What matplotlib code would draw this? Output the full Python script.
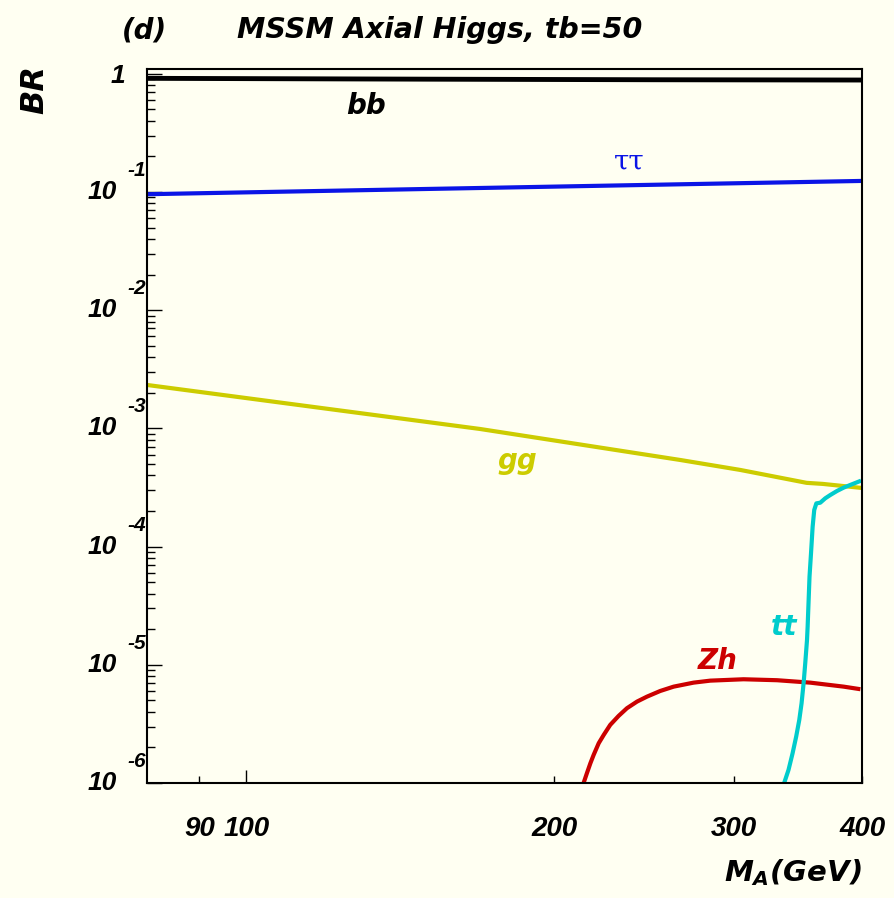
import numpy as np
import matplotlib
matplotlib.use("Agg")
import matplotlib.pyplot as plt
from matplotlib.ticker import NullFormatter, FixedLocator

plt.rcParams['font.family'] = ['Liberation Sans', 'DejaVu Sans']
plt.rcParams['mathtext.fontset'] = 'custom'
plt.rcParams['mathtext.it'] = 'DejaVu Sans:bold:italic'
plt.rcParams['mathtext.rm'] = 'DejaVu Sans:bold:italic'

# branching ratios of the MSSM axial Higgs (tan beta = 50)
mass_bb = [80, 150, 250, 400]
br_bb = [0.915, 0.90, 0.89, 0.885]

mass_tau = [80, 150, 250, 400]
br_tau = [0.0957, 0.106, 0.115, 0.124]

mass_gg = [80, 169.3, 265.7, 304, 353, 366, 400]
br_gg = [2.33e-3, 9.88e-4, 5.40e-4, 4.45e-4, 3.46e-4, 3.39e-4, 3.13e-4]

mass_zh = [213.7, 215.3, 217.0, 218.6, 221.1, 223.6, 226.9, 231.2, 235.6, 241.0,
           246.4, 253.9, 261.7, 273.7, 284.2, 306.3, 330.3, 355.9, 383.7, 398.4]
br_zh = [1.0e-6, 1.21e-6, 1.47e-6, 1.73e-6, 2.17e-6, 2.55e-6, 3.10e-6, 3.69e-6,
         4.29e-6, 4.88e-6, 5.37e-6, 6.00e-6, 6.53e-6, 7.06e-6, 7.34e-6, 7.54e-6,
         7.40e-6, 7.06e-6, 6.53e-6, 6.21e-6]

mass_tt = [335.6, 338.9, 342.0, 344.8, 347.2, 349.0, 350.6, 351.9, 353.3, 353.8,
           354.6, 355.3, 356.5, 357.8, 359.1, 360.8, 364.0, 368.1, 372.3, 377.9,
           383.6, 389.4, 399.0]
br_tt = [1.0e-6, 1.29e-6, 1.78e-6, 2.47e-6, 3.41e-6, 4.72e-6, 6.97e-6, 1.03e-5,
         1.62e-5, 2.10e-5, 3.53e-5, 5.56e-5, 8.77e-5, 1.47e-4, 2.04e-4, 2.32e-4,
         2.35e-4, 2.56e-4, 2.73e-4, 2.95e-4, 3.15e-4, 3.32e-4, 3.61e-4]

x_ticks_major = [100]
x_ticks_minor = [90, 200, 300, 400]
y_decades = [0, -1, -2, -3, -4, -5, -6]

bg = '#fffff2'
font = dict(fontweight='bold', fontstyle='italic')
wide = dict(fontweight='bold', fontstyle='oblique', family=['DejaVu Sans'])

fig = plt.figure(figsize=(8.94, 8.98), dpi=100, facecolor=bg)
ax = fig.add_axes([0.1644, 0.1281, 0.80, 0.7951], facecolor=bg)

ax.plot(mass_bb, br_bb, color='black', lw=3.5, solid_capstyle='butt')
ax.plot(mass_tau, br_tau, color='#0a14e6', lw=3, solid_capstyle='butt')
ax.plot(mass_gg, br_gg, color='#cccc00', lw=3, solid_capstyle='butt')
ax.plot(mass_zh, br_zh, color='#cc0000', lw=3, solid_capstyle='butt')
ax.plot(mass_tt, br_tt, color='#00cccc', lw=3, solid_capstyle='butt')

ax.set_xscale('log')
ax.set_yscale('log')
ax.set_xlim(80, 400)
ax.set_ylim(1e-6, 1.098)

ax.xaxis.set_major_locator(FixedLocator(x_ticks_major))
ax.xaxis.set_minor_locator(FixedLocator(x_ticks_minor))
ax.set_xticklabels([str(v) for v in x_ticks_major], **font, fontsize=20)
ax.xaxis.set_minor_formatter(plt.FixedFormatter([str(v) for v in x_ticks_minor]))
for lab in ax.get_xminorticklabels():
    lab.set_fontsize(20)
    lab.set_fontweight('bold')
    lab.set_fontstyle('italic')
ax.tick_params(axis='x', which='major', direction='in', length=9.5, width=1, pad=24)
ax.tick_params(axis='x', which='minor', direction='in', length=5, width=1, pad=24)

ax.yaxis.set_major_formatter(NullFormatter())
ax.yaxis.set_minor_formatter(NullFormatter())
ax.tick_params(axis='y', which='major', direction='in', length=11, width=1)
ax.tick_params(axis='y', which='minor', direction='in', length=6, width=1)

for s in ax.spines.values():
    s.set_linewidth(1.5)

# ROOT-style y labels: "10" with the exponent raised on its right
ytr = ax.get_yaxis_transform()
for d in y_decades:
    if d == 0:
        ax.text(-0.031, 0.95, '1', transform=ytr, ha='right', va='center',
                fontsize=19, **font)
    else:
        ax.text(-0.042, 10.0 ** d, '10', transform=ytr, ha='right', va='center',
                fontsize=19, **font)
        ax.text(-0.001, 10.0 ** d * 1.52, str(d), transform=ytr, ha='right',
                va='center', fontsize=15, **font)

# curve labels
ax.text(131, 0.53, 'bb', color='black', ha='center', va='center', fontsize=20, **wide)
ax.text(237, 0.179, 'ττ', color='#0a14e6', ha='center', va='center', fontsize=20,
        family=['DejaVu Serif'])
ax.text(184, 5.3e-4, 'gg', color='#cccc00', ha='center', va='center', fontsize=20, **wide)
ax.text(335.7, 2.09e-5, 'tt', color='#00cccc', ha='center', va='center', fontsize=20, **wide)
ax.text(288.7, 1.08e-5, 'Zh', color='#cc0000', ha='center', va='center', fontsize=20, **wide)

fig.text(122 / 894, 1 - 30 / 898, '(d)', ha='left', va='center', fontsize=20, **wide)
fig.text(237 / 894, 1 - 30 / 898, 'MSSM Axial Higgs, tb=50', ha='left', va='center',
         fontsize=20.5, **wide)
fig.text(35 / 894, 1 - 90 / 898, 'BR', rotation=90, ha='center', va='center',
         fontsize=23, **wide)
fig.text(862 / 894, 1 - 873 / 898, r'$M_A$(GeV)', ha='right', va='center',
         fontsize=21, **wide)

fig.savefig('out.png', dpi=100, facecolor=bg)
